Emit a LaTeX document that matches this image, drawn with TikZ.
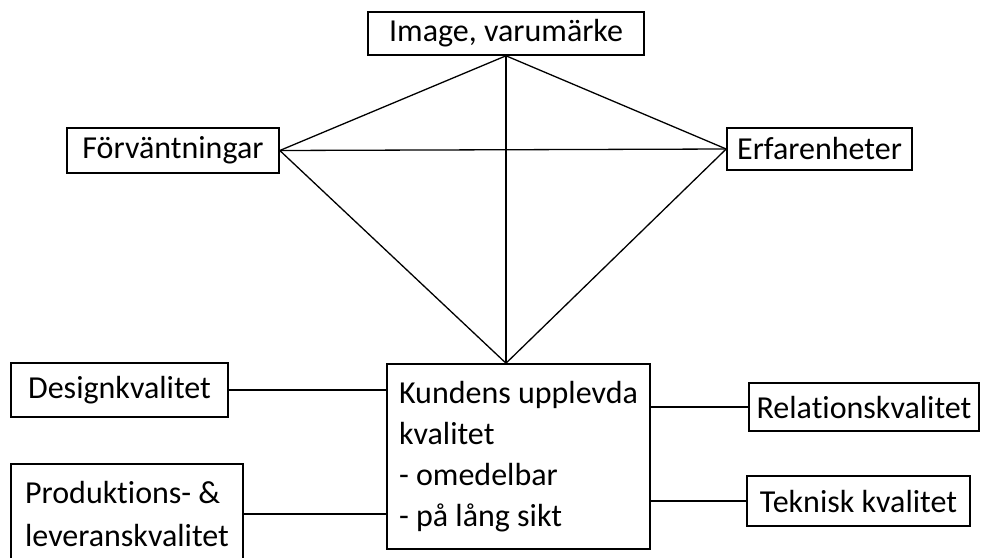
\documentclass[tikz,border=0pt]{standalone}
\usepackage{fontspec}
\setmainfont{Carlito}[Ligatures={NoCommon,NoContextual}]
\usepackage{tikz}
\usetikzlibrary{positioning}

\begin{document}
\begin{tikzpicture}[x=1pt,y=-1pt,
  qbox/.style={draw=black,line width=1.6pt,inner sep=0pt,
    font=\fontsize{32}{41}\selectfont},
  link/.style={draw=black,line width=1.3pt}]
\useasboundingbox (0,0) rectangle (981,557);
\clip (0,0) rectangle (981,557);

% upper triangle
\node[qbox,minimum width=276pt,minimum height=43pt] (image) at (506,33.5) {Image, varumärke};
\node[qbox,minimum width=212pt,minimum height=45pt] (forv) at (173,150.5) {Förväntningar};
\node[qbox,minimum width=185pt,minimum height=42pt] (erf) at (819.5,149) {Erfarenheter};

% centre box
\node[qbox,align=left,minimum width=263pt,minimum height=185pt] (kund) at (518.5,456.5)
  {Kundens upplevda\\kvalitet\\- omedelbar\\- på lång sikt};

% quality dimensions
\node[qbox,minimum width=217pt,minimum height=54pt] (design) at (119.5,390) {Designkvalitet};
\node[qbox,align=left,font=\fontsize{32}{43}\selectfont,
  minimum width=232pt,minimum height=100pt] (prod) at (127,514)
  {Produktions- \&\\leveranskvalitet};
\node[qbox,minimum width=230pt,minimum height=48pt] (rel) at (864,407) {Relationskvalitet};
\node[qbox,minimum width=223pt,minimum height=50pt] (tek) at (858.5,501) {Teknisk kvalitet};

% lines of the triangle
\coordinate (top) at (image.south);
\coordinate (bot) at (image.south |- kund.north);
\draw[link] (top) -- (bot);
\draw[link] (forv.east) -- (erf.west);
\draw[link] (forv.east) -- (top) -- (erf.west);
\draw[link] (forv.east) -- (bot) -- (erf.west);

% side links
\draw[link] (design.east) -- (design.east -| kund.west);
\draw[link] (prod.east) -- (prod.east -| kund.west);
\draw[link] (rel.west) -- (rel.west -| kund.east);
\draw[link] (tek.west) -- (tek.west -| kund.east);
\end{tikzpicture}
\end{document}
